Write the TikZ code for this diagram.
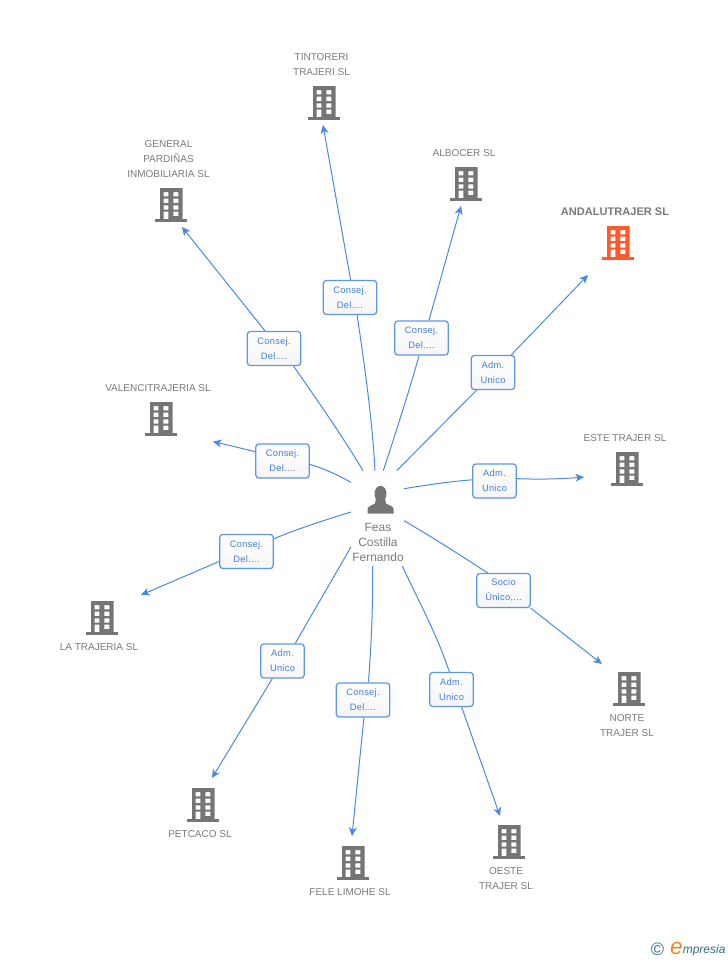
\documentclass[tikz,border=0pt]{standalone}
\usepackage{fontspec}
\setmainfont{Liberation Sans}
\usetikzlibrary{arrows.meta}
\definecolor{iconGray}{HTML}{757575}
\definecolor{txtGray}{HTML}{7A7A7A}
\definecolor{iconOrange}{HTML}{FF5A2E}
\definecolor{linkBlue}{HTML}{4A8AE4}
\definecolor{boxBlue}{HTML}{5F97E8}
\definecolor{boxText}{HTML}{3F80E0}
\definecolor{logoTeal}{HTML}{2F6F8F}
\definecolor{logoOrange}{HTML}{F58220}
\tikzset{
  x=0.75pt,y=-0.75pt,
  rolebox/.style={draw=boxBlue,line width=0.95pt,top color=white,bottom color=black!4,rounded corners=2.2pt,text=boxText,
    font=\fontsize{7pt}{11.2pt}\selectfont\addfontfeature{LetterSpace=3},align=center,inner sep=0pt,minimum height=25.5pt},
  widebox/.style={minimum width=40pt},
  narrowbox/.style={minimum width=32.5pt},
  plate/.style={text=txtGray,font=\fontsize{7.5pt}{11.2pt}\selectfont,align=center,inner sep=0pt},
  linkline/.style={draw=linkBlue,line width=0.75pt},
  tipline/.style={linkline,-{Stealth[length=6.4pt,width=6pt,inset=1.8pt]}},
  anchorbox/.style={minimum width=24pt,minimum height=25.5pt,inner sep=0pt}
}
\newcommand{\bldg}[4]{% name, cx, top, colour
  \node[anchorbox] (#1) at (#2,#3+17) {};
  \begin{scope}[shift={(#2,#3)}]
    \fill[#4,even odd rule] (-11,0) rectangle (11.5,31)
      (-7.3,4) rectangle (-2.7,8.3) (2.3,4) rectangle (7.3,8.3)
      (-7.3,10.7) rectangle (-2.7,15) (2.3,10.7) rectangle (7.3,15)
      (-7.3,17.3) rectangle (-2.7,21.7) (2.3,17.3) rectangle (7.3,21.7)
      (-7.3,23.7) rectangle (-2.7,31) (2.3,23.7) rectangle (7.3,28);
    \fill[#4] (-16,31) rectangle (16,34);
  \end{scope}
}
\begin{document}
\begin{tikzpicture}
\useasboundingbox (0,0) rectangle (728,960);

% buildings
\bldg{tintoreri}{324}{86}{iconGray}
\bldg{general}{171}{188}{iconGray}
\bldg{albocer}{466}{167}{iconGray}
\bldg{andalu}{618}{226}{iconOrange}
\bldg{valenci}{161}{402}{iconGray}
\bldg{este}{627}{452}{iconGray}
\bldg{latrajeria}{102}{601}{iconGray}
\bldg{norte}{629}{672}{iconGray}
\bldg{petcaco}{203}{788}{iconGray}
\bldg{fele}{353}{846}{iconGray}
\bldg{oeste}{509}{825}{iconGray}

% building names
\node[plate] (ntintoreri) at (321.5,64.5) {TINTORERI\\TRAJERI SL};
\node[plate] (ngeneral) at (168.5,159) {GENERAL\\PARDIÑAS\\INMOBILIARIA SL};
\node[plate] (nalbocer) at (464,153) {ALBOCER SL};
\node[plate,font=\bfseries\fontsize{8.3pt}{11pt}\selectfont] (nandalu) at (615,211.5) {ANDALUTRAJER SL};
\node[plate] (nvalenci) at (158,388) {VALENCITRAJERIA SL};
\node[plate] (neste) at (625,438) {ESTE TRAJER SL};
\node[plate] (nlatrajeria) at (99,647) {LA TRAJERIA SL};
\node[plate] (nnorte) at (627,725.5) {NORTE\\TRAJER SL};
\node[plate] (npetcaco) at (200,834) {PETCACO SL};
\node[plate] (nfele) at (350,892) {FELE LIMOHE SL};
\node[plate] (noeste) at (506,878.5) {OESTE\\TRAJER SL};

% person
\node[anchorbox] (person) at (380.5,499) {};
\fill[iconGray] (380.5,493.8) ellipse (6 and 8);
\fill[iconGray] (367.5,513.5) -- (367.5,509.5) .. controls (367.5,506) and (372,505.5) .. (375,503.5)
  -- (376,498) -- (385,498) -- (386,503.5) .. controls (389,505.5) and (393.7,506) .. (393.7,509.5) -- (393.7,513.5) -- cycle;
\node[plate,font=\fontsize{9pt}{11.3pt}\selectfont] (nperson) at (378,542) {Feas\\Costilla\\Fernando};

% role boxes
\node[rolebox,widebox] (b1) at (350,297.5) {Consej.\\Del....};
\node[rolebox,widebox] (b2) at (274,348.5) {Consej.\\Del....};
\node[rolebox,widebox] (b3) at (421.5,338) {Consej.\\Del....};
\node[rolebox,narrowbox] (b4) at (493,372.5) {Adm.\\Unico};
\node[rolebox,widebox] (b5) at (282.5,461) {Consej.\\Del....};
\node[rolebox,narrowbox] (b6) at (494.5,481) {Adm.\\Unico};
\node[rolebox,widebox] (b7) at (246.5,551.5) {Consej.\\Del....};
\node[rolebox,widebox] (b8) at (503.5,590.5) {Socio\\Único,...};
\node[rolebox,narrowbox] (b9) at (282.5,661) {Adm.\\Unico};
\node[rolebox,widebox] (b10) at (363,700) {Consej.\\Del....};
\node[rolebox,narrowbox] (b11) at (451.5,689.5) {Adm.\\Unico};

% free ends
\coordinate (s1) at (375,470.7); \coordinate (e1) at (323,125);
\coordinate (s2) at (363,470.7); \coordinate (e2) at (182,227);
\coordinate (s3) at (383.3,470.7); \coordinate (e3) at (461,206);
\coordinate (s4) at (396.7,470.7); \coordinate (e4) at (588,275);
\coordinate (s5) at (351,482.3); \coordinate (e5) at (213,441.5);
\coordinate (s6) at (404,488.7); \coordinate (e6) at (584,477);
\coordinate (s7) at (351,512); \coordinate (e7) at (141,595);
\coordinate (s8) at (404,520.7); \coordinate (e8) at (602,664);
\coordinate (s9) at (351,546.7); \coordinate (e9) at (212,778);
\coordinate (s10) at (372.7,566); \coordinate (e10) at (352,836);
\coordinate (s11) at (402.3,566); \coordinate (e11) at (500,816);

% connectors
\draw[linkline] (s1) .. controls (372,415) and (363,355) .. (b1.-68);
\draw[tipline] (b1.88) -- (e1);
\draw[linkline] (s2) .. controls (340,432) and (310,390) .. (b2.-42);
\draw[tipline] (b2.117) -- (e2);
\draw[linkline] (s3) .. controls (396,432) and (411,385) .. (b3.-98);
\draw[tipline] (b3.67) -- (e3);
\draw[linkline] (s4) -- (b4.-133);
\draw[tipline] (b4.44) -- (e4);
\draw[linkline] (s5) .. controls (338,475) and (325,469) .. (b5.-7);
\draw[tipline] (b5.161) -- (e5);
\draw[linkline] (s6) .. controls (430,484.5) and (450,481.5) .. (b6.177);
\draw[tipline] (b6.6) .. controls (540,479.5) and (560,479) .. (e6);
\draw[linkline] (s7) .. controls (325,520) and (300,528) .. (b7.25);
\draw[tipline] (b7.200) -- (e7);
\draw[linkline] (s8) .. controls (432,537) and (460,555) .. (b8.132);
\draw[tipline] (b8.-33) -- (e8);
\draw[linkline] (s9) .. controls (335,575) and (312,614) .. (b9.54);
\draw[tipline] (b9.-120) -- (e9);
\draw[linkline] (s10) .. controls (373,610) and (371,650) .. (b10.73);
\draw[tipline] (b10.-87) -- (e10);
\draw[linkline] (s11) .. controls (418,600) and (436,632) .. (b11.97);
\draw[tipline] (b11.-60) -- (e11);

% logo
\node[inner sep=0pt,text=logoTeal,font=\fontsize{13.5pt}{14pt}\selectfont] (logoc) at (657.5,949) {©};
\node[inner sep=0pt,text=logoOrange,font=\itshape\fontsize{17pt}{17pt}\selectfont] (logoe) at (676.5,948) {e};
\node[inner sep=0pt,anchor=west,text=logoTeal,font=\itshape\fontsize{9pt}{10pt}\selectfont] (logot) at (682.5,950) {mpresia};
\end{tikzpicture}
\end{document}
